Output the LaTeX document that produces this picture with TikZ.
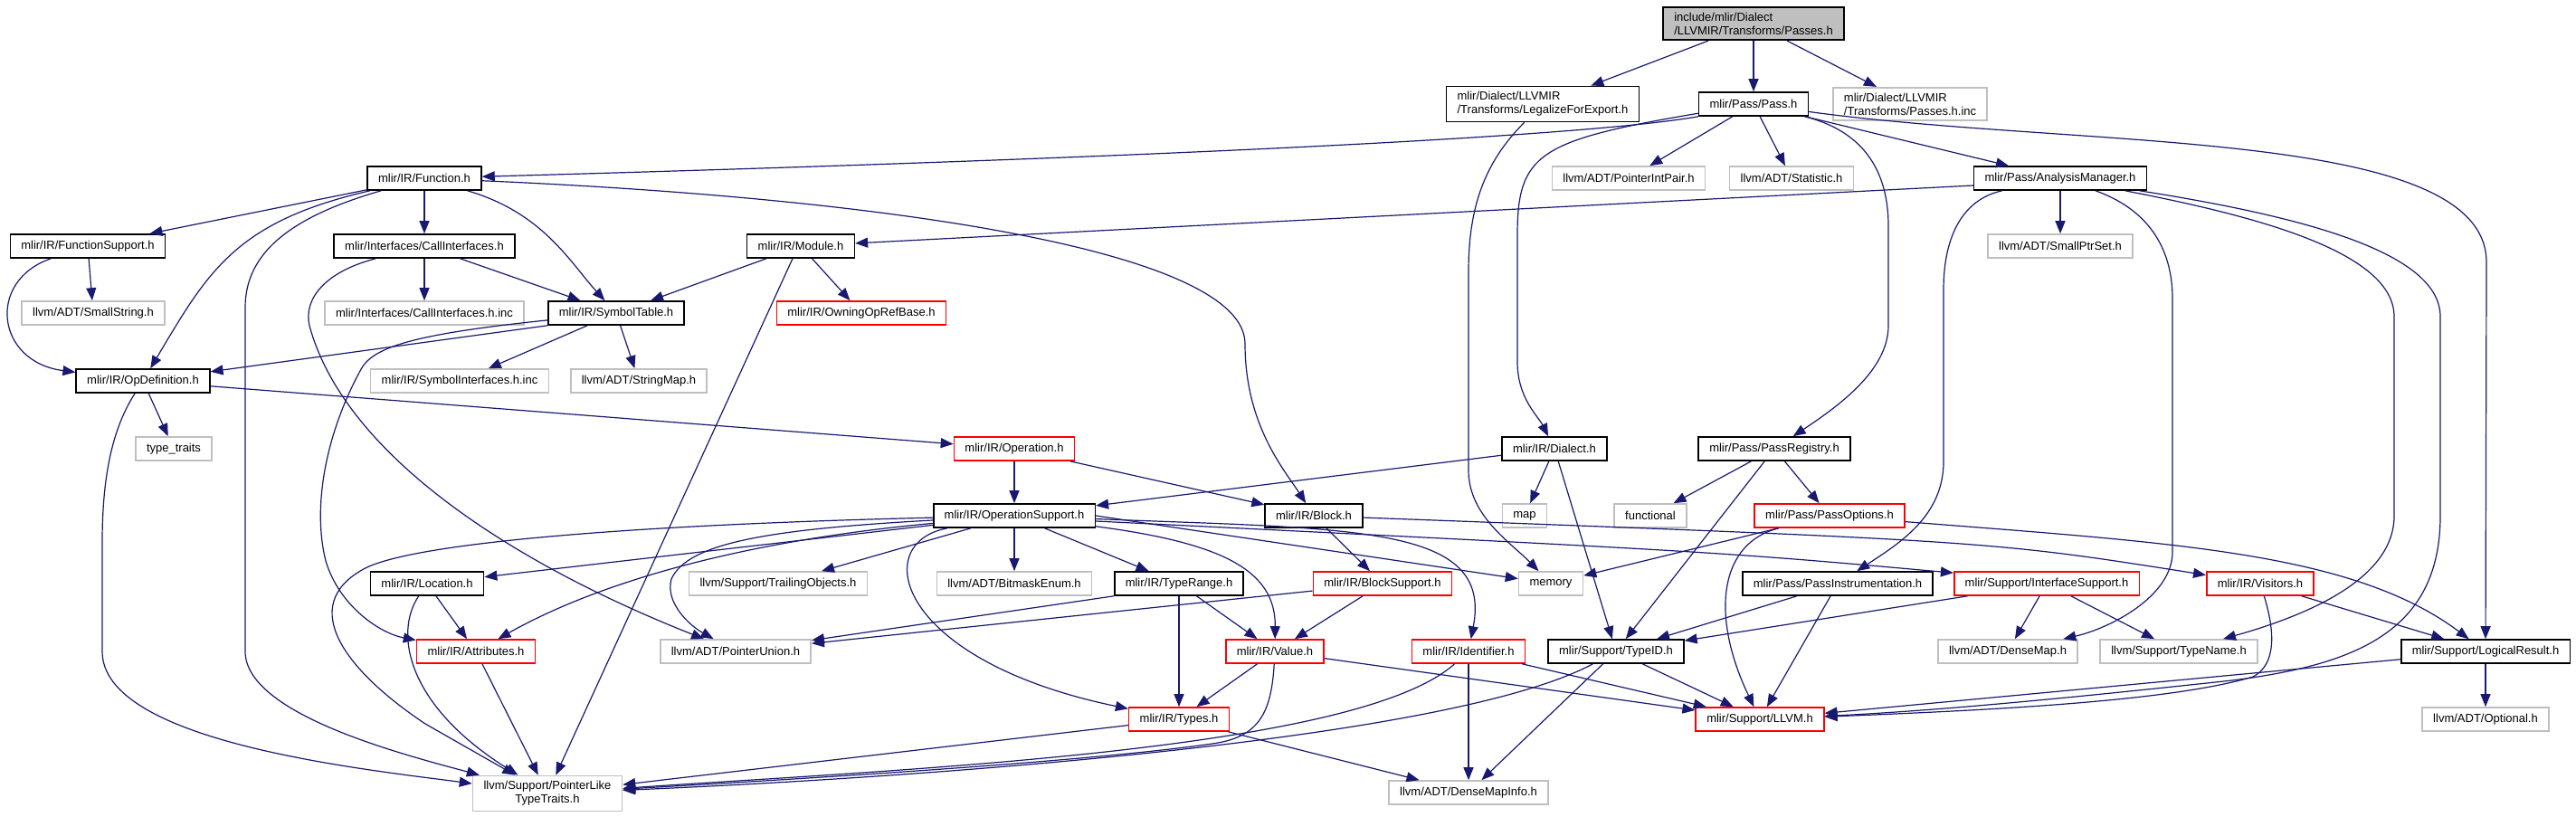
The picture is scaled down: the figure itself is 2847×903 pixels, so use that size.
\documentclass[tikz,border=0pt]{standalone}
\usepackage{fontspec}
\setmainfont{Liberation Sans}
\usepackage{tikz}
\usetikzlibrary{arrows.meta}
\definecolor{cEdge}{HTML}{191970}
\definecolor{cGrey}{HTML}{BFBFBF}
\definecolor{cRed}{HTML}{FF0000}
\definecolor{cFill}{HTML}{BFBFBF}
\tikzset{
  hdr/.style={draw=black, line width=0.8pt, fill=white, align=left,
              inner xsep=6pt, inner ysep=3pt, minimum height=13pt,
              font=\fontsize{6.5}{7.5}\selectfont},
  hdrExt/.style={hdr, draw=cGrey},
  hdrTrunc/.style={hdr, draw=cRed},
  hdrMain/.style={hdr, fill=cFill},
  ar/.style={-{Triangle[length=7pt,width=5.5pt]}, cEdge, line width=0.6pt}
}
\begin{document}
\begin{tikzpicture}[x=0.5pt,y=-0.5pt]
\useasboundingbox (0,0) rectangle (2847,903);
\node[hdrMain] (root) at (1938,26) {include/mlir/Dialect\\/LLVMIR/Transforms/Passes.h};
\node[hdr] (legal) at (1705,115) {mlir/Dialect/LLVMIR\\/Transforms/LegalizeForExport.h};
\node[hdr] (pass) at (1938,115) {mlir/Pass/Pass.h};
\node[hdrExt] (passinc) at (2111,115) {mlir/Dialect/LLVMIR\\/Transforms/Passes.h.inc};
\node[hdr] (func) at (469,197) {mlir/IR/Function.h};
\node[hdrExt] (pip) at (1800,197) {llvm/ADT/PointerIntPair.h};
\node[hdrExt] (stat) at (1980,197) {llvm/ADT/Statistic.h};
\node[hdr] (am) at (2277,197) {mlir/Pass/AnalysisManager.h};
\node[hdr] (fsup) at (97,272) {mlir/IR/FunctionSupport.h};
\node[hdr] (calli) at (469,272) {mlir/Interfaces/CallInterfaces.h};
\node[hdr] (module) at (885,272) {mlir/IR/Module.h};
\node[hdrExt] (sptr) at (2277,272) {llvm/ADT/SmallPtrSet.h};
\node[hdrExt] (sstr) at (103,346) {llvm/ADT/SmallString.h};
\node[hdrExt] (callinc) at (469,346) {mlir/Interfaces/CallInterfaces.h.inc};
\node[hdr] (symtab) at (681,346) {mlir/IR/SymbolTable.h};
\node[hdrTrunc] (owning) at (952,346) {mlir/IR/OwningOpRefBase.h};
\node[hdr] (opdef) at (158,421) {mlir/IR/OpDefinition.h};
\node[hdrExt] (syminc) at (508,421) {mlir/IR/SymbolInterfaces.h.inc};
\node[hdrExt] (strmap) at (706,421) {llvm/ADT/StringMap.h};
\node[hdrExt] (ttraits) at (192,496) {type\_traits};
\node[hdrTrunc] (oper) at (1121,496) {mlir/IR/Operation.h};
\node[hdr] (dialect) at (1718,496) {mlir/IR/Dialect.h};
\node[hdr] (preg) at (1961,496) {mlir/Pass/PassRegistry.h};
\node[hdr] (opsup) at (1121,570) {mlir/IR/OperationSupport.h};
\node[hdr] (block) at (1452,570) {mlir/IR/Block.h};
\node[hdrExt] (map) at (1685,570) {map};
\node[hdrExt] (functional) at (1824,570) {functional};
\node[hdrTrunc] (popts) at (2022,570) {mlir/Pass/PassOptions.h};
\node[hdr] (loc) at (472,645) {mlir/IR/Location.h};
\node[hdrExt] (trail) at (860,645) {llvm/Support/TrailingObjects.h};
\node[hdrExt] (bitmask) at (1121,645) {llvm/ADT/BitmaskEnum.h};
\node[hdr] (trange) at (1303,645) {mlir/IR/TypeRange.h};
\node[hdrTrunc] (bsup) at (1528,645) {mlir/IR/BlockSupport.h};
\node[hdrExt] (memory) at (1714,645) {memory};
\node[hdr] (pinst) at (2031,645) {mlir/Pass/PassInstrumentation.h};
\node[hdrTrunc] (isup) at (2262,645) {mlir/Support/InterfaceSupport.h};
\node[hdrTrunc] (visitors) at (2498,645) {mlir/IR/Visitors.h};
\node[hdrTrunc] (attrs) at (526,720) {mlir/IR/Attributes.h};
\node[hdrExt] (punion) at (813,720) {llvm/ADT/PointerUnion.h};
\node[hdrTrunc] (value) at (1409,720) {mlir/IR/Value.h};
\node[hdrTrunc] (ident) at (1623,720) {mlir/IR/Identifier.h};
\node[hdr] (typeid) at (1786,720) {mlir/Support/TypeID.h};
\node[hdrExt] (dmap) at (2219,720) {llvm/ADT/DenseMap.h};
\node[hdrExt] (tname) at (2408,720) {llvm/Support/TypeName.h};
\node[hdr] (logres) at (2747,720) {mlir/Support/LogicalResult.h};
\node[hdrTrunc] (types) at (1303,795) {mlir/IR/Types.h};
\node[hdrTrunc] (llvm) at (1945,795) {mlir/Support/LLVM.h};
\node[hdrExt] (optional) at (2747,795) {llvm/ADT/Optional.h};
\node[hdrExt, align=center] (plike) at (605,877) {llvm/Support/PointerLike\\TypeTraits.h};
\node[hdrExt] (dminfo) at (1623,876) {llvm/ADT/DenseMapInfo.h};
\draw[ar](root)--(legal);\draw[ar](root)--(pass);\draw[ar](root)--(passinc);
\draw[ar](legal) .. controls (1640,180) and (1623,230) .. (1623,300) -- (1623,520) .. controls (1623,570) and (1670,600) .. (memory);
\draw[ar](pass.south west) .. controls (1700,160) and (900,185) .. (func);
\draw[ar](pass)--(pip);\draw[ar](pass)--(stat);\draw[ar](pass)--(am);
\draw[ar](pass) .. controls (1700,155) and (1677,170) .. (1677,260) -- (1677,400) .. controls (1677,440) and (1700,460) .. (dialect);
\draw[ar](pass) .. controls (2040,140) and (2087,170) .. (2087,250) -- (2087,360) .. controls (2087,410) and (2030,450) .. (preg);
\draw[ar](pass) .. controls (2300,165) and (2748,140) .. (2748,290) -- (logres);
\draw[ar](func)--(fsup);\draw[ar](func)--(calli);
\draw[ar](func) .. controls (260,245) and (230,300) .. (opdef);
\draw[ar](func) .. controls (320,240) and (271,280) .. (271,340) -- (271,720) .. controls (271,790) and (450,835) .. (plike);
\draw[ar](func) .. controls (600,235) and (630,290) .. (symtab);
\draw[ar](func) .. controls (1000,220) and (1376,280) .. (1376,380) .. controls (1376,470) and (1420,520) .. (block);
\draw[ar](fsup)--(sstr);
\draw[ar](fsup) .. controls (-15,310) and (-5,400) .. (opdef);
\draw[ar](calli)--(callinc);\draw[ar](calli)--(symtab);
\draw[ar](calli) .. controls (360,300) and (335,330) .. (342,360) .. controls (380,500) and (560,620) .. (punion);
\draw[ar](module)--(symtab);\draw[ar](module)--(owning);
\draw[ar]([xshift=-4.5pt]module.south)--(plike);
\draw[ar]([yshift=-4pt]am.west)--(module);\draw[ar](am)--(sptr);
\draw[ar](am) .. controls (2170,220) and (2148,260) .. (2148,320) -- (2148,510) .. controls (2148,570) and (2100,600) .. (pinst);
\draw[ar](am) .. controls (2370,230) and (2401,270) .. (2401,330) -- (2401,610) .. controls (2401,660) and (2330,695) .. (dmap);
\draw[ar](am) .. controls (2500,240) and (2646,280) .. (2646,350) -- (2646,570) .. controls (2646,640) and (2550,680) .. (tname);
\draw[ar](am) .. controls (2550,240) and (2697,280) .. (2697,350) -- (2697,570) .. controls (2697,700) and (2600,735) .. (2467,752) .. controls (2300,770) and (2150,785) .. (llvm);
\draw[ar](symtab.south west)--(opdef);\draw[ar](symtab)--(syminc);\draw[ar](symtab)--(strmap);
\draw[ar](symtab) .. controls (450,370) and (410,385) .. (398,410) .. controls (360,480) and (345,560) .. (360,620) .. controls (375,670) and (420,700) .. (attrs);
\draw[ar](opdef)--(ttraits);\draw[ar](opdef)--(oper);
\draw[ar](opdef) .. controls (120,480) and (113,540) .. (113,600) -- (113,720) .. controls (113,820) and (400,850) .. (plike);
\draw[ar](oper)--(opsup);\draw[ar](oper)--(block);
\draw[ar](dialect)--(opsup);\draw[ar](dialect)--(map);\draw[ar](dialect)--(typeid);
\draw[ar](preg)--(functional);\draw[ar](preg)--(popts);\draw[ar](preg)--(typeid);
\draw[ar](popts)--(memory);
\draw[ar](popts) .. controls (1900,600) and (1890,680) .. (llvm);
\draw[ar](popts) .. controls (2400,600) and (2600,610) .. (logres);
\draw[ar](block)--(bsup);
\draw[ar](block) .. controls (2200,598) .. (visitors);
\draw[ar](opsup)--(loc);\draw[ar](opsup)--(trail);\draw[ar](opsup)--(bitmask);\draw[ar](opsup)--(trange);
\draw[ar](opsup) .. controls (800,600) and (650,650) .. (attrs);
\draw[ar](opsup) .. controls (700,580) and (450,600) .. (400,630) .. controls (330,670) and (380,740) .. (470,800) -- (plike);
\draw[ar](opsup) .. controls (850,585) and (760,600) .. (742,640) .. controls (735,665) and (760,690) .. (punion);
\draw[ar](opsup) .. controls (960,600) and (990,730) .. (types);
\draw[ar](opsup) .. controls (1350,600) and (1410,630) .. (value);
\draw[ar](opsup.east)--(memory);
\draw[ar](opsup) .. controls (1500,585) and (1650,580) .. (ident);
\draw[ar]([yshift=-3pt]opsup.east) .. controls (1900,610) .. ([yshift=-1pt]isup.north west);
\draw[ar](loc)--(attrs);
\draw[ar](loc) .. controls (435,700) and (450,780) .. (plike);
\draw[ar](attrs)--(plike);
\draw[ar](trange.south west)--(punion);\draw[ar](trange)--(types);\draw[ar](trange)--(value);
\draw[ar](bsup)--(punion);\draw[ar](bsup)--(value);
\draw[ar](value)--(types);\draw[ar](value)--(llvm);
\draw[ar](value) .. controls (1405,790) and (1390,815) .. (1340,822) .. controls (1200,842) and (900,860) .. (plike);
\draw[ar](types)--(plike);\draw[ar](types)--(dminfo);
\draw[ar](ident) .. controls (1500,830) and (1000,850) .. (plike);
\draw[ar](ident)--(dminfo);\draw[ar](ident)--(llvm);
\draw[ar](typeid) .. controls (1600,820) and (1000,860) .. (plike);
\draw[ar](typeid)--(dminfo);\draw[ar](typeid)--(llvm);
\draw[ar](pinst)--(typeid);\draw[ar](pinst)--(llvm);
\draw[ar](isup)--(typeid);\draw[ar](isup)--(dmap);\draw[ar](isup)--(tname);
\draw[ar](visitors) .. controls (2515,700) and (2515,735) .. (2490,748) .. controls (2400,775) and (2200,785) .. (llvm);
\draw[ar](visitors)--(logres);
\draw[ar](logres)--(llvm);\draw[ar](logres)--(optional);
\end{tikzpicture}
\end{document}
